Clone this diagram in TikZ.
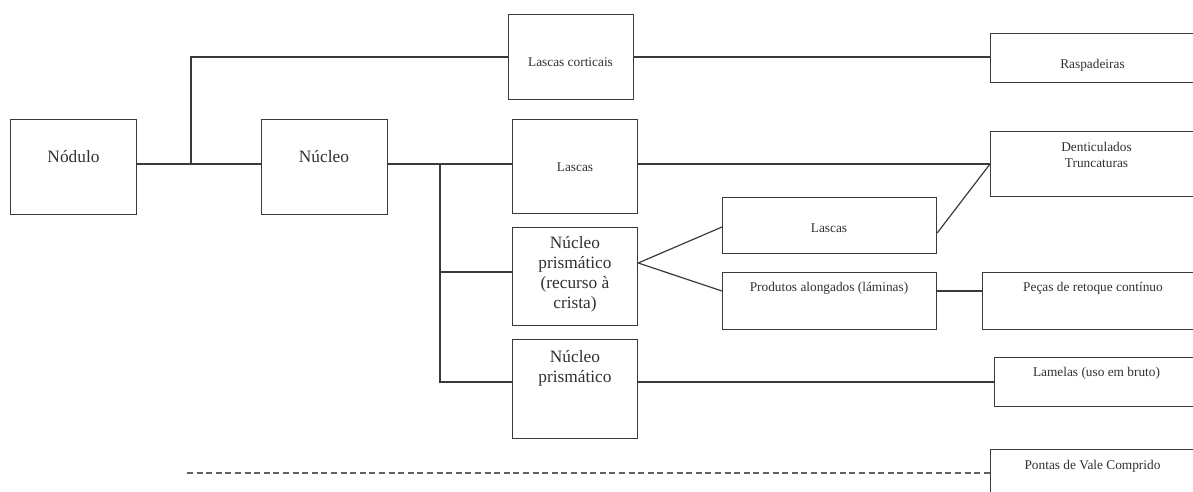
\documentclass[tikz,border=0pt]{standalone}
\usepackage{fontspec}
\setmainfont{Liberation Serif}
\definecolor{ln}{HTML}{3A3A3A}
\definecolor{tx}{HTML}{303030}
\tikzset{
  box/.style={draw=ln, line width=0.9pt, rectangle, inner sep=0pt, anchor=north west},
  big/.style={text=tx, font=\fontsize{13}{15}\selectfont, align=center, inner sep=0pt},
  small/.style={text=tx, font=\fontsize{10}{12}\selectfont, align=center, inner sep=0pt},
  conn/.style={draw=ln, line width=0.9pt},
  dashconn/.style={draw=ln!80, line width=0.9pt, dash pattern=on 4.5pt off 2.7pt}
}
\begin{document}
\begin{tikzpicture}[x=0.75pt,y=-0.75pt]
\useasboundingbox (0,0) rectangle (1193,492);
\clip (0,0) rectangle (1193,492);
% boxes
\node[box, minimum width=94.5pt, minimum height=71.25pt] (nodulo) at (10,119) {};
\node[box, minimum width=94.5pt, minimum height=71.25pt] (nucleo) at (261,119) {};
\node[box, minimum width=93.75pt, minimum height=63.75pt] (lcort) at (508,14) {};
\node[box, minimum width=93.75pt, minimum height=70.5pt] (lascas) at (512,119) {};
\node[box, minimum width=93.75pt, minimum height=73.5pt] (npr) at (512,227) {};
\node[box, minimum width=93.75pt, minimum height=74.25pt] (np) at (512,339) {};
\node[box, minimum width=160.5pt, minimum height=42pt] (lascas2) at (722,197) {};
\node[box, minimum width=160.5pt, minimum height=42.75pt] (prod) at (722,272) {};
\node[box, minimum width=157.5pt, minimum height=36.75pt] (rasp) at (990,33) {};
\node[box, minimum width=157.5pt, minimum height=48.75pt] (dent) at (990,131) {};
\node[box, minimum width=163.5pt, minimum height=42.75pt] (pecas) at (982,272) {};
\node[box, minimum width=154.5pt, minimum height=36.75pt] (lam) at (994,357) {};
\node[box, minimum width=157.5pt, minimum height=45pt] (pontas) at (990,449) {};
% texts
\node[big] (tnodulo) at (73.5,157) {Nódulo};
\node[big] (tnucleo) at (324,157) {Núcleo};
\node[small] (tlcort) at (570.5,62) {Lascas corticais};
\node[small] (tlascas) at (575,167) {Lascas};
\node[small] (trasp) at (1092.5,65) {Raspadeiras};
\node[small] (tdent) at (1096.5,155) {Denticulados\\Truncaturas};
\node[small] (tlascas2) at (829,228) {Lascas};
\node[big] (tnpr) at (575,274) {Núcleo\\prismático\\(recurso à\\crista)};
\node[small] (tprod) at (829,288) {Produtos alongados (láminas)};
\node[small] (tpecas) at (1093,288) {Peças de retoque contínuo};
\node[big] (tnp) at (575,368) {Núcleo\\prismático};
\node[small] (tlam) at (1096.5,373) {Lamelas (uso em bruto)};
\node[small] (tpontas) at (1092.5,466) {Pontas de Vale Comprido};
% junction coordinates
\coordinate (ja) at (191,164);
\coordinate (jb) at (440,164);
\coordinate (jc) at (440,272);
\coordinate (jd) at (440,382);
\coordinate (ytop) at (0,57);
\coordinate (ymid) at (0,164);
\coordinate (yfan) at (0,263);
\coordinate (ylasl) at (0,227);
\coordinate (ylasr) at (0,233);
\coordinate (yprod) at (0,291);
\coordinate (dstart) at (187,473);
% connectors
\draw[conn] (nodulo.east |- ja) -- (nucleo.west |- ja);
\draw[conn] (ja) -- (ja |- ytop) -- (lcort.west |- ytop);
\draw[conn] (lcort.east |- ytop) -- (rasp.west |- ytop);
\draw[conn] (nucleo.east |- ymid) -- (lascas.west |- ymid);
\draw[conn] (lascas.east |- ymid) -- (dent.west |- ymid);
\draw[conn] (jb) -- (jd) -- (np.west |- jd);
\draw[conn] (jc) -- (npr.west |- jc);
\draw[conn] (np.east |- jd) -- (lam.west |- jd);
\draw[conn] (lascas2.west |- ylasl) -- (npr.east |- yfan) -- (prod.west |- yprod);
\draw[conn] (lascas2.east |- ylasr) -- (dent.west |- ymid);
\draw[conn] (prod.east |- yprod) -- (pecas.west |- yprod);
\draw[dashconn] (dstart) -- (pontas.west |- dstart);
\end{tikzpicture}
\end{document}
